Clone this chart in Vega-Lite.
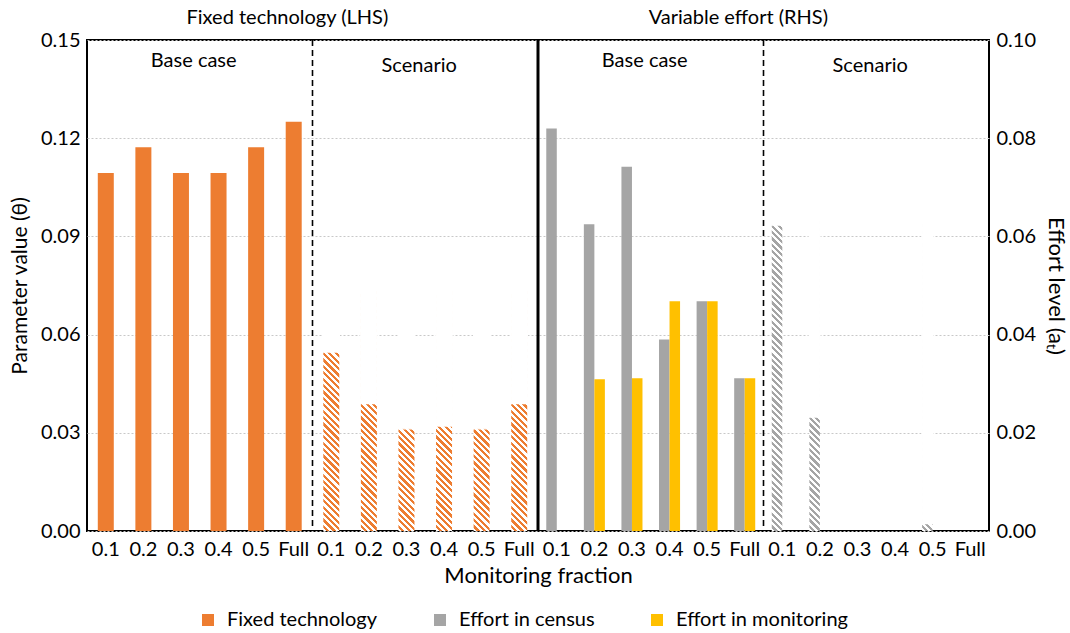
{
  "$schema": "https://vega.github.io/schema/vega-lite/v6.json",
  "width": 902,
  "height": 491,
  "autosize": {"type": "none"},
  "padding": {"left": 87, "top": 40, "right": 81, "bottom": 102},
  "background": "white",
  "config": {
    "font": "Lato",
    "view": {"stroke": "#000000", "strokeWidth": 2},
    "axis": {"labelFont": "Lato", "titleFont": "Lato", "labelColor": "#000000", "titleColor": "#000000", "titleFontWeight": "normal"},
    "legend": {"labelFont": "Lato", "labelColor": "#000000", "labelLimit": 400}
  },
  "data": {
    "values": [
      {"key": "FB|0.1", "series": "Fixed technology", "case": "Base", "value": 0.1094},
      {"key": "FB|0.2", "series": "Fixed technology", "case": "Base", "value": 0.1172},
      {"key": "FB|0.3", "series": "Fixed technology", "case": "Base", "value": 0.1094},
      {"key": "FB|0.4", "series": "Fixed technology", "case": "Base", "value": 0.1094},
      {"key": "FB|0.5", "series": "Fixed technology", "case": "Base", "value": 0.1172},
      {"key": "FB|Full", "series": "Fixed technology", "case": "Base", "value": 0.125},
      {"key": "FS|0.1", "series": "Fixed technology", "case": "Scenario", "value": 0.0547},
      {"key": "FS|0.2", "series": "Fixed technology", "case": "Scenario", "value": 0.0389},
      {"key": "FS|0.3", "series": "Fixed technology", "case": "Scenario", "value": 0.0312},
      {"key": "FS|0.4", "series": "Fixed technology", "case": "Scenario", "value": 0.0321},
      {"key": "FS|0.5", "series": "Fixed technology", "case": "Scenario", "value": 0.0312},
      {"key": "FS|Full", "series": "Fixed technology", "case": "Scenario", "value": 0.0389},
      {"key": "VB|0.1", "series": "Effort in census", "case": "Base", "value": 0.0820},
      {"key": "VB|0.2", "series": "Effort in census", "case": "Base", "value": 0.0625},
      {"key": "VB|0.3", "series": "Effort in census", "case": "Base", "value": 0.0742},
      {"key": "VB|0.4", "series": "Effort in census", "case": "Base", "value": 0.0390},
      {"key": "VB|0.5", "series": "Effort in census", "case": "Base", "value": 0.0468},
      {"key": "VB|Full", "series": "Effort in census", "case": "Base", "value": 0.0311},
      {"key": "VB|0.1", "series": "Effort in monitoring", "case": "Base", "value": 0},
      {"key": "VB|0.2", "series": "Effort in monitoring", "case": "Base", "value": 0.0309},
      {"key": "VB|0.3", "series": "Effort in monitoring", "case": "Base", "value": 0.0311},
      {"key": "VB|0.4", "series": "Effort in monitoring", "case": "Base", "value": 0.0468},
      {"key": "VB|0.5", "series": "Effort in monitoring", "case": "Base", "value": 0.0468},
      {"key": "VB|Full", "series": "Effort in monitoring", "case": "Base", "value": 0.0311},
      {"key": "VS|0.1", "series": "Effort in census", "case": "Scenario", "value": 0.0623},
      {"key": "VS|0.2", "series": "Effort in census", "case": "Scenario", "value": 0.0232},
      {"key": "VS|0.3", "series": "Effort in census", "case": "Scenario", "value": 0},
      {"key": "VS|0.4", "series": "Effort in census", "case": "Scenario", "value": 0},
      {"key": "VS|0.5", "series": "Effort in census", "case": "Scenario", "value": 0.0015},
      {"key": "VS|Full", "series": "Effort in census", "case": "Scenario", "value": 0},
      {"key": "VS|0.1", "series": "Effort in monitoring", "case": "Scenario", "value": 0},
      {"key": "VS|0.2", "series": "Effort in monitoring", "case": "Scenario", "value": 0},
      {"key": "VS|0.3", "series": "Effort in monitoring", "case": "Scenario", "value": 0},
      {"key": "VS|0.4", "series": "Effort in monitoring", "case": "Scenario", "value": 0},
      {"key": "VS|0.5", "series": "Effort in monitoring", "case": "Scenario", "value": 0},
      {"key": "VS|Full", "series": "Effort in monitoring", "case": "Scenario", "value": 0}
    ]
  },
  "encoding": {
    "x": {
      "field": "key",
      "type": "nominal",
      "title": "Monitoring fraction",
      "scale": {
        "domain": ["FB|0.1", "FB|0.2", "FB|0.3", "FB|0.4", "FB|0.5", "FB|Full", "FS|0.1", "FS|0.2", "FS|0.3", "FS|0.4", "FS|0.5", "FS|Full", "VB|0.1", "VB|0.2", "VB|0.3", "VB|0.4", "VB|0.5", "VB|Full", "VS|0.1", "VS|0.2", "VS|0.3", "VS|0.4", "VS|0.5", "VS|Full"],
        "paddingInner": 0.44,
        "paddingOuter": 0.22,
        "round": false
      },
      "axis": {
        "labelExpr": "split(datum.value, '|')[1]",
        "labelAngle": 0,
        "ticks": false,
        "domain": false,
        "grid": false,
        "labelFontSize": 20,
        "labelPadding": 8,
        "titleFontSize": 22,
        "titlePadding": 6
      }
    }
  },
  "layer": [
    {
      "encoding": {
        "y": {
          "field": "value",
          "type": "quantitative",
          "title": "Parameter value (θ)",
          "scale": {"domain": [0, 0.15]},
          "axis": {
            "values": [0, 0.03, 0.06, 0.09, 0.12, 0.15],
            "format": ".2f",
            "grid": true,
            "gridColor": "#C8C8C8",
            "gridDash": [2, 2],
            "gridWidth": 1,
            "ticks": false,
            "domain": false,
            "labelFontSize": 20,
            "labelPadding": 7,
            "titleFontSize": 21,
            "titlePadding": 10
          }
        }
      },
      "layer": [
        {
          "transform": [{"filter": "datum.series == 'Fixed technology' && datum.case == 'Base'"}],
          "mark": {"type": "bar", "width": {"band": 0.76}},
          "encoding": {
            "color": {
              "field": "series",
              "type": "nominal",
              "scale": {"domain": ["Fixed technology", "Effort in census", "Effort in monitoring"], "range": ["#ED7D31", "#A5A5A5", "#FFC000"]},
              "legend": {"orient": "none", "legendX": 111, "legendY": 570, "direction": "horizontal", "title": null, "symbolType": "square", "symbolSize": 144, "symbolStrokeWidth": 0, "labelFontSize": 20, "labelOffset": 9, "labelLimit": 400, "columnPadding": 52}
            }
          }
        },
        {
          "transform": [{"filter": "datum.series == 'Fixed technology' && datum.case == 'Scenario'"}],
          "mark": {
            "type": "bar",
            "width": {"band": 0.76},
            "fill": {
              "gradient": "linear", "x1": 1, "y1": 0, "x2": 0.929204, "y2": 1.061947,
              "stops": [
                {"offset": 0, "color": "#ED7D31"},
                {"offset": 0.0125, "color": "#ED7D31"}, {"offset": 0.0125, "color": "#fff"},
                {"offset": 0.025, "color": "#fff"}, {"offset": 0.025, "color": "#ED7D31"},
                {"offset": 0.0375, "color": "#ED7D31"}, {"offset": 0.0375, "color": "#fff"},
                {"offset": 0.05, "color": "#fff"}, {"offset": 0.05, "color": "#ED7D31"},
                {"offset": 0.0625, "color": "#ED7D31"}, {"offset": 0.0625, "color": "#fff"},
                {"offset": 0.075, "color": "#fff"}, {"offset": 0.075, "color": "#ED7D31"},
                {"offset": 0.0875, "color": "#ED7D31"}, {"offset": 0.0875, "color": "#fff"},
                {"offset": 0.1, "color": "#fff"}, {"offset": 0.1, "color": "#ED7D31"},
                {"offset": 0.1125, "color": "#ED7D31"}, {"offset": 0.1125, "color": "#fff"},
                {"offset": 0.125, "color": "#fff"}, {"offset": 0.125, "color": "#ED7D31"},
                {"offset": 0.1375, "color": "#ED7D31"}, {"offset": 0.1375, "color": "#fff"},
                {"offset": 0.15, "color": "#fff"}, {"offset": 0.15, "color": "#ED7D31"},
                {"offset": 0.1625, "color": "#ED7D31"}, {"offset": 0.1625, "color": "#fff"},
                {"offset": 0.175, "color": "#fff"}, {"offset": 0.175, "color": "#ED7D31"},
                {"offset": 0.1875, "color": "#ED7D31"}, {"offset": 0.1875, "color": "#fff"},
                {"offset": 0.2, "color": "#fff"}, {"offset": 0.2, "color": "#ED7D31"},
                {"offset": 0.2125, "color": "#ED7D31"}, {"offset": 0.2125, "color": "#fff"},
                {"offset": 0.225, "color": "#fff"}, {"offset": 0.225, "color": "#ED7D31"},
                {"offset": 0.2375, "color": "#ED7D31"}, {"offset": 0.2375, "color": "#fff"},
                {"offset": 0.25, "color": "#fff"}, {"offset": 0.25, "color": "#ED7D31"},
                {"offset": 0.2625, "color": "#ED7D31"}, {"offset": 0.2625, "color": "#fff"},
                {"offset": 0.275, "color": "#fff"}, {"offset": 0.275, "color": "#ED7D31"},
                {"offset": 0.2875, "color": "#ED7D31"}, {"offset": 0.2875, "color": "#fff"},
                {"offset": 0.3, "color": "#fff"}, {"offset": 0.3, "color": "#ED7D31"},
                {"offset": 0.3125, "color": "#ED7D31"}, {"offset": 0.3125, "color": "#fff"},
                {"offset": 0.325, "color": "#fff"}, {"offset": 0.325, "color": "#ED7D31"},
                {"offset": 0.3375, "color": "#ED7D31"}, {"offset": 0.3375, "color": "#fff"},
                {"offset": 0.35, "color": "#fff"}, {"offset": 0.35, "color": "#ED7D31"},
                {"offset": 0.3625, "color": "#ED7D31"}, {"offset": 0.3625, "color": "#fff"},
                {"offset": 0.375, "color": "#fff"}, {"offset": 0.375, "color": "#ED7D31"},
                {"offset": 0.3875, "color": "#ED7D31"}, {"offset": 0.3875, "color": "#fff"},
                {"offset": 0.4, "color": "#fff"}, {"offset": 0.4, "color": "#ED7D31"},
                {"offset": 0.4125, "color": "#ED7D31"}, {"offset": 0.4125, "color": "#fff"},
                {"offset": 0.425, "color": "#fff"}, {"offset": 0.425, "color": "#ED7D31"},
                {"offset": 0.4375, "color": "#ED7D31"}, {"offset": 0.4375, "color": "#fff"},
                {"offset": 0.45, "color": "#fff"}, {"offset": 0.45, "color": "#ED7D31"},
                {"offset": 0.4625, "color": "#ED7D31"}, {"offset": 0.4625, "color": "#fff"},
                {"offset": 0.475, "color": "#fff"}, {"offset": 0.475, "color": "#ED7D31"},
                {"offset": 0.4875, "color": "#ED7D31"}, {"offset": 0.4875, "color": "#fff"},
                {"offset": 0.5, "color": "#fff"}, {"offset": 0.5, "color": "#ED7D31"},
                {"offset": 0.5125, "color": "#ED7D31"}, {"offset": 0.5125, "color": "#fff"},
                {"offset": 0.525, "color": "#fff"}, {"offset": 0.525, "color": "#ED7D31"},
                {"offset": 0.5375, "color": "#ED7D31"}, {"offset": 0.5375, "color": "#fff"},
                {"offset": 0.55, "color": "#fff"}, {"offset": 0.55, "color": "#ED7D31"},
                {"offset": 0.5625, "color": "#ED7D31"}, {"offset": 0.5625, "color": "#fff"},
                {"offset": 0.575, "color": "#fff"}, {"offset": 0.575, "color": "#ED7D31"},
                {"offset": 0.5875, "color": "#ED7D31"}, {"offset": 0.5875, "color": "#fff"},
                {"offset": 0.6, "color": "#fff"}, {"offset": 0.6, "color": "#ED7D31"},
                {"offset": 0.6125, "color": "#ED7D31"}, {"offset": 0.6125, "color": "#fff"},
                {"offset": 0.625, "color": "#fff"}, {"offset": 0.625, "color": "#ED7D31"},
                {"offset": 0.6375, "color": "#ED7D31"}, {"offset": 0.6375, "color": "#fff"},
                {"offset": 0.65, "color": "#fff"}, {"offset": 0.65, "color": "#ED7D31"},
                {"offset": 0.6625, "color": "#ED7D31"}, {"offset": 0.6625, "color": "#fff"},
                {"offset": 0.675, "color": "#fff"}, {"offset": 0.675, "color": "#ED7D31"},
                {"offset": 0.6875, "color": "#ED7D31"}, {"offset": 0.6875, "color": "#fff"},
                {"offset": 0.7, "color": "#fff"}, {"offset": 0.7, "color": "#ED7D31"},
                {"offset": 0.7125, "color": "#ED7D31"}, {"offset": 0.7125, "color": "#fff"},
                {"offset": 0.725, "color": "#fff"}, {"offset": 0.725, "color": "#ED7D31"},
                {"offset": 0.7375, "color": "#ED7D31"}, {"offset": 0.7375, "color": "#fff"},
                {"offset": 0.75, "color": "#fff"}, {"offset": 0.75, "color": "#ED7D31"},
                {"offset": 0.7625, "color": "#ED7D31"}, {"offset": 0.7625, "color": "#fff"},
                {"offset": 0.775, "color": "#fff"}, {"offset": 0.775, "color": "#ED7D31"},
                {"offset": 0.7875, "color": "#ED7D31"}, {"offset": 0.7875, "color": "#fff"},
                {"offset": 0.8, "color": "#fff"}, {"offset": 0.8, "color": "#ED7D31"},
                {"offset": 0.8125, "color": "#ED7D31"}, {"offset": 0.8125, "color": "#fff"},
                {"offset": 0.825, "color": "#fff"}, {"offset": 0.825, "color": "#ED7D31"},
                {"offset": 0.8375, "color": "#ED7D31"}, {"offset": 0.8375, "color": "#fff"},
                {"offset": 0.85, "color": "#fff"}, {"offset": 0.85, "color": "#ED7D31"},
                {"offset": 0.8625, "color": "#ED7D31"}, {"offset": 0.8625, "color": "#fff"},
                {"offset": 0.875, "color": "#fff"}, {"offset": 0.875, "color": "#ED7D31"},
                {"offset": 0.8875, "color": "#ED7D31"}, {"offset": 0.8875, "color": "#fff"},
                {"offset": 0.9, "color": "#fff"}, {"offset": 0.9, "color": "#ED7D31"},
                {"offset": 0.9125, "color": "#ED7D31"}, {"offset": 0.9125, "color": "#fff"},
                {"offset": 0.925, "color": "#fff"}, {"offset": 0.925, "color": "#ED7D31"},
                {"offset": 0.9375, "color": "#ED7D31"}, {"offset": 0.9375, "color": "#fff"},
                {"offset": 0.95, "color": "#fff"}, {"offset": 0.95, "color": "#ED7D31"},
                {"offset": 0.9625, "color": "#ED7D31"}, {"offset": 0.9625, "color": "#fff"},
                {"offset": 0.975, "color": "#fff"}, {"offset": 0.975, "color": "#ED7D31"},
                {"offset": 0.9875, "color": "#ED7D31"}, {"offset": 0.9875, "color": "#fff"},
                {"offset": 1, "color": "#fff"}
              ]
            }
          },
          "encoding": {
            "y": {"datum": 0.07332, "type": "quantitative", "title": "Parameter value (θ)", "scale": {"domain": [0, 0.15]}},
            "y2": {"datum": 0}
          }
        },
        {
          "transform": [{"filter": "datum.series == 'Fixed technology' && datum.case == 'Scenario'"}],
          "mark": {"type": "bar", "width": {"band": 0.76}, "fill": "#FFFFFF", "stroke": "#FFFFFF", "strokeWidth": 1.4},
          "encoding": {"y2": {"datum": 0.0738}}
        }
      ]
    },
    {
      "encoding": {
        "y": {
          "field": "value",
          "type": "quantitative",
          "title": "Effort level (aₜ)",
          "scale": {"domain": [0, 0.1]},
          "axis": {
            "orient": "right",
            "values": [0, 0.02, 0.04, 0.06, 0.08, 0.1],
            "format": ".2f",
            "grid": false,
            "ticks": false,
            "domain": false,
            "labelFontSize": 20,
            "labelPadding": 7,
            "titleFontSize": 22,
            "titlePadding": 8
          }
        },
        "xOffset": {
          "field": "series",
          "type": "nominal",
          "scale": {"domain": ["Effort in census", "Effort in monitoring"], "paddingInner": 0, "paddingOuter": 0}
        }
      },
      "layer": [
        {
          "transform": [{"filter": "datum.series != 'Fixed technology' && !(datum.case == 'Scenario' && datum.series == 'Effort in census')"}],
          "mark": {"type": "bar"},
          "encoding": {
            "color": {
              "field": "series",
              "type": "nominal",
              "scale": {"domain": ["Fixed technology", "Effort in census", "Effort in monitoring"], "range": ["#ED7D31", "#A5A5A5", "#FFC000"]},
              "legend": {"orient": "none", "legendX": 111, "legendY": 570, "direction": "horizontal", "title": null, "symbolType": "square", "symbolSize": 144, "symbolStrokeWidth": 0, "labelFontSize": 20, "labelOffset": 9, "labelLimit": 400, "columnPadding": 52}
            }
          }
        },
        {
          "transform": [{"filter": "datum.series == 'Effort in census' && datum.case == 'Scenario' && datum.value > 0"}],
          "mark": {
            "type": "bar",
            "fill": {
              "gradient": "linear", "x1": 1, "y1": 0, "x2": 0.964893, "y2": 1.032796,
              "stops": [
                {"offset": 0, "color": "#A5A5A5"},
                {"offset": 0.01, "color": "#A5A5A5"}, {"offset": 0.01, "color": "#fff"},
                {"offset": 0.02, "color": "#fff"}, {"offset": 0.02, "color": "#A5A5A5"},
                {"offset": 0.03, "color": "#A5A5A5"}, {"offset": 0.03, "color": "#fff"},
                {"offset": 0.04, "color": "#fff"}, {"offset": 0.04, "color": "#A5A5A5"},
                {"offset": 0.05, "color": "#A5A5A5"}, {"offset": 0.05, "color": "#fff"},
                {"offset": 0.06, "color": "#fff"}, {"offset": 0.06, "color": "#A5A5A5"},
                {"offset": 0.07, "color": "#A5A5A5"}, {"offset": 0.07, "color": "#fff"},
                {"offset": 0.08, "color": "#fff"}, {"offset": 0.08, "color": "#A5A5A5"},
                {"offset": 0.09, "color": "#A5A5A5"}, {"offset": 0.09, "color": "#fff"},
                {"offset": 0.1, "color": "#fff"}, {"offset": 0.1, "color": "#A5A5A5"},
                {"offset": 0.11, "color": "#A5A5A5"}, {"offset": 0.11, "color": "#fff"},
                {"offset": 0.12, "color": "#fff"}, {"offset": 0.12, "color": "#A5A5A5"},
                {"offset": 0.13, "color": "#A5A5A5"}, {"offset": 0.13, "color": "#fff"},
                {"offset": 0.14, "color": "#fff"}, {"offset": 0.14, "color": "#A5A5A5"},
                {"offset": 0.15, "color": "#A5A5A5"}, {"offset": 0.15, "color": "#fff"},
                {"offset": 0.16, "color": "#fff"}, {"offset": 0.16, "color": "#A5A5A5"},
                {"offset": 0.17, "color": "#A5A5A5"}, {"offset": 0.17, "color": "#fff"},
                {"offset": 0.18, "color": "#fff"}, {"offset": 0.18, "color": "#A5A5A5"},
                {"offset": 0.19, "color": "#A5A5A5"}, {"offset": 0.19, "color": "#fff"},
                {"offset": 0.2, "color": "#fff"}, {"offset": 0.2, "color": "#A5A5A5"},
                {"offset": 0.21, "color": "#A5A5A5"}, {"offset": 0.21, "color": "#fff"},
                {"offset": 0.22, "color": "#fff"}, {"offset": 0.22, "color": "#A5A5A5"},
                {"offset": 0.23, "color": "#A5A5A5"}, {"offset": 0.23, "color": "#fff"},
                {"offset": 0.24, "color": "#fff"}, {"offset": 0.24, "color": "#A5A5A5"},
                {"offset": 0.25, "color": "#A5A5A5"}, {"offset": 0.25, "color": "#fff"},
                {"offset": 0.26, "color": "#fff"}, {"offset": 0.26, "color": "#A5A5A5"},
                {"offset": 0.27, "color": "#A5A5A5"}, {"offset": 0.27, "color": "#fff"},
                {"offset": 0.28, "color": "#fff"}, {"offset": 0.28, "color": "#A5A5A5"},
                {"offset": 0.29, "color": "#A5A5A5"}, {"offset": 0.29, "color": "#fff"},
                {"offset": 0.3, "color": "#fff"}, {"offset": 0.3, "color": "#A5A5A5"},
                {"offset": 0.31, "color": "#A5A5A5"}, {"offset": 0.31, "color": "#fff"},
                {"offset": 0.32, "color": "#fff"}, {"offset": 0.32, "color": "#A5A5A5"},
                {"offset": 0.33, "color": "#A5A5A5"}, {"offset": 0.33, "color": "#fff"},
                {"offset": 0.34, "color": "#fff"}, {"offset": 0.34, "color": "#A5A5A5"},
                {"offset": 0.35, "color": "#A5A5A5"}, {"offset": 0.35, "color": "#fff"},
                {"offset": 0.36, "color": "#fff"}, {"offset": 0.36, "color": "#A5A5A5"},
                {"offset": 0.37, "color": "#A5A5A5"}, {"offset": 0.37, "color": "#fff"},
                {"offset": 0.38, "color": "#fff"}, {"offset": 0.38, "color": "#A5A5A5"},
                {"offset": 0.39, "color": "#A5A5A5"}, {"offset": 0.39, "color": "#fff"},
                {"offset": 0.4, "color": "#fff"}, {"offset": 0.4, "color": "#A5A5A5"},
                {"offset": 0.41, "color": "#A5A5A5"}, {"offset": 0.41, "color": "#fff"},
                {"offset": 0.42, "color": "#fff"}, {"offset": 0.42, "color": "#A5A5A5"},
                {"offset": 0.43, "color": "#A5A5A5"}, {"offset": 0.43, "color": "#fff"},
                {"offset": 0.44, "color": "#fff"}, {"offset": 0.44, "color": "#A5A5A5"},
                {"offset": 0.45, "color": "#A5A5A5"}, {"offset": 0.45, "color": "#fff"},
                {"offset": 0.46, "color": "#fff"}, {"offset": 0.46, "color": "#A5A5A5"},
                {"offset": 0.47, "color": "#A5A5A5"}, {"offset": 0.47, "color": "#fff"},
                {"offset": 0.48, "color": "#fff"}, {"offset": 0.48, "color": "#A5A5A5"},
                {"offset": 0.49, "color": "#A5A5A5"}, {"offset": 0.49, "color": "#fff"},
                {"offset": 0.5, "color": "#fff"}, {"offset": 0.5, "color": "#A5A5A5"},
                {"offset": 0.51, "color": "#A5A5A5"}, {"offset": 0.51, "color": "#fff"},
                {"offset": 0.52, "color": "#fff"}, {"offset": 0.52, "color": "#A5A5A5"},
                {"offset": 0.53, "color": "#A5A5A5"}, {"offset": 0.53, "color": "#fff"},
                {"offset": 0.54, "color": "#fff"}, {"offset": 0.54, "color": "#A5A5A5"},
                {"offset": 0.55, "color": "#A5A5A5"}, {"offset": 0.55, "color": "#fff"},
                {"offset": 0.56, "color": "#fff"}, {"offset": 0.56, "color": "#A5A5A5"},
                {"offset": 0.57, "color": "#A5A5A5"}, {"offset": 0.57, "color": "#fff"},
                {"offset": 0.58, "color": "#fff"}, {"offset": 0.58, "color": "#A5A5A5"},
                {"offset": 0.59, "color": "#A5A5A5"}, {"offset": 0.59, "color": "#fff"},
                {"offset": 0.6, "color": "#fff"}, {"offset": 0.6, "color": "#A5A5A5"},
                {"offset": 0.61, "color": "#A5A5A5"}, {"offset": 0.61, "color": "#fff"},
                {"offset": 0.62, "color": "#fff"}, {"offset": 0.62, "color": "#A5A5A5"},
                {"offset": 0.63, "color": "#A5A5A5"}, {"offset": 0.63, "color": "#fff"},
                {"offset": 0.64, "color": "#fff"}, {"offset": 0.64, "color": "#A5A5A5"},
                {"offset": 0.65, "color": "#A5A5A5"}, {"offset": 0.65, "color": "#fff"},
                {"offset": 0.66, "color": "#fff"}, {"offset": 0.66, "color": "#A5A5A5"},
                {"offset": 0.67, "color": "#A5A5A5"}, {"offset": 0.67, "color": "#fff"},
                {"offset": 0.68, "color": "#fff"}, {"offset": 0.68, "color": "#A5A5A5"},
                {"offset": 0.69, "color": "#A5A5A5"}, {"offset": 0.69, "color": "#fff"},
                {"offset": 0.7, "color": "#fff"}, {"offset": 0.7, "color": "#A5A5A5"},
                {"offset": 0.71, "color": "#A5A5A5"}, {"offset": 0.71, "color": "#fff"},
                {"offset": 0.72, "color": "#fff"}, {"offset": 0.72, "color": "#A5A5A5"},
                {"offset": 0.73, "color": "#A5A5A5"}, {"offset": 0.73, "color": "#fff"},
                {"offset": 0.74, "color": "#fff"}, {"offset": 0.74, "color": "#A5A5A5"},
                {"offset": 0.75, "color": "#A5A5A5"}, {"offset": 0.75, "color": "#fff"},
                {"offset": 0.76, "color": "#fff"}, {"offset": 0.76, "color": "#A5A5A5"},
                {"offset": 0.77, "color": "#A5A5A5"}, {"offset": 0.77, "color": "#fff"},
                {"offset": 0.78, "color": "#fff"}, {"offset": 0.78, "color": "#A5A5A5"},
                {"offset": 0.79, "color": "#A5A5A5"}, {"offset": 0.79, "color": "#fff"},
                {"offset": 0.8, "color": "#fff"}, {"offset": 0.8, "color": "#A5A5A5"},
                {"offset": 0.81, "color": "#A5A5A5"}, {"offset": 0.81, "color": "#fff"},
                {"offset": 0.82, "color": "#fff"}, {"offset": 0.82, "color": "#A5A5A5"},
                {"offset": 0.83, "color": "#A5A5A5"}, {"offset": 0.83, "color": "#fff"},
                {"offset": 0.84, "color": "#fff"}, {"offset": 0.84, "color": "#A5A5A5"},
                {"offset": 0.85, "color": "#A5A5A5"}, {"offset": 0.85, "color": "#fff"},
                {"offset": 0.86, "color": "#fff"}, {"offset": 0.86, "color": "#A5A5A5"},
                {"offset": 0.87, "color": "#A5A5A5"}, {"offset": 0.87, "color": "#fff"},
                {"offset": 0.88, "color": "#fff"}, {"offset": 0.88, "color": "#A5A5A5"},
                {"offset": 0.89, "color": "#A5A5A5"}, {"offset": 0.89, "color": "#fff"},
                {"offset": 0.9, "color": "#fff"}, {"offset": 0.9, "color": "#A5A5A5"},
                {"offset": 0.91, "color": "#A5A5A5"}, {"offset": 0.91, "color": "#fff"},
                {"offset": 0.92, "color": "#fff"}, {"offset": 0.92, "color": "#A5A5A5"},
                {"offset": 0.93, "color": "#A5A5A5"}, {"offset": 0.93, "color": "#fff"},
                {"offset": 0.94, "color": "#fff"}, {"offset": 0.94, "color": "#A5A5A5"},
                {"offset": 0.95, "color": "#A5A5A5"}, {"offset": 0.95, "color": "#fff"},
                {"offset": 0.96, "color": "#fff"}, {"offset": 0.96, "color": "#A5A5A5"},
                {"offset": 0.97, "color": "#A5A5A5"}, {"offset": 0.97, "color": "#fff"},
                {"offset": 0.98, "color": "#fff"}, {"offset": 0.98, "color": "#A5A5A5"},
                {"offset": 0.99, "color": "#A5A5A5"}, {"offset": 0.99, "color": "#fff"},
                {"offset": 1, "color": "#fff"}
              ]
            }
          },
          "encoding": {
            "y": {"datum": 0.06303, "type": "quantitative", "title": "Effort level (aₜ)", "scale": {"domain": [0, 0.1]}},
            "y2": {"datum": 0}
          }
        },
        {
          "transform": [{"filter": "datum.series == 'Effort in census' && datum.case == 'Scenario' && datum.value > 0"}],
          "mark": {"type": "bar", "fill": "#FFFFFF", "stroke": "#FFFFFF", "strokeWidth": 1.4},
          "encoding": {"y2": {"datum": 0.0634}}
        }
      ]
    },
    {
      "data": {"values": [{}]},
      "mark": {"type": "rule", "color": "#000000", "strokeWidth": 1.6, "strokeDash": [6, 4]},
      "encoding": {"x": {"datum": "FS|0.1", "type": "nominal", "bandPosition": -0.39286, "title": "Monitoring fraction"}}
    },
    {
      "data": {"values": [{}]},
      "mark": {"type": "rule", "color": "#000000", "strokeWidth": 1.6, "strokeDash": [6, 4]},
      "encoding": {"x": {"datum": "VS|0.1", "type": "nominal", "bandPosition": -0.39286, "title": "Monitoring fraction"}}
    },
    {
      "data": {"values": [{}]},
      "mark": {"type": "rule", "color": "#000000", "strokeWidth": 3},
      "encoding": {"x": {"datum": "VB|0.1", "type": "nominal", "bandPosition": -0.39286, "title": "Monitoring fraction"}}
    },
    {
      "data": {"values": [
        {"label": "Base case", "key": "FB|0.4"},
        {"label": "Base case", "key": "VB|0.4"}
      ]},
      "mark": {"type": "text", "fontSize": 20, "font": "Lato", "color": "#000000"},
      "encoding": {
        "x": {"field": "key", "type": "nominal", "bandPosition": -0.68, "title": "Monitoring fraction"},
        "y": {"datum": 0.1435, "type": "quantitative", "scale": {"domain": [0, 0.15]}, "axis": null},
        "text": {"field": "label"}
      }
    },
    {
      "data": {"values": [
        {"label": "Scenario", "key": "FS|0.4"},
        {"label": "Scenario", "key": "VS|0.4"}
      ]},
      "mark": {"type": "text", "fontSize": 20, "font": "Lato", "color": "#000000"},
      "encoding": {
        "x": {"field": "key", "type": "nominal", "bandPosition": -0.68, "title": "Monitoring fraction"},
        "y": {"datum": 0.1422, "type": "quantitative", "scale": {"domain": [0, 0.15]}, "axis": null},
        "text": {"field": "label"}
      }
    },
    {
      "data": {"values": [
        {"label": "Fixed technology (LHS)", "key": "FB|Full"},
        {"label": "Variable effort (RHS)", "key": "VB|Full"}
      ]},
      "mark": {"type": "text", "fontSize": 20, "font": "Lato", "color": "#000000"},
      "encoding": {
        "x": {"field": "key", "type": "nominal", "bandPosition": 0.2, "title": "Monitoring fraction"},
        "y": {"datum": 0.1567, "type": "quantitative", "scale": {"domain": [0, 0.15]}, "axis": null},
        "text": {"field": "label"}
      }
    }
  ],
  "resolve": {"scale": {"y": "independent"}}
}
